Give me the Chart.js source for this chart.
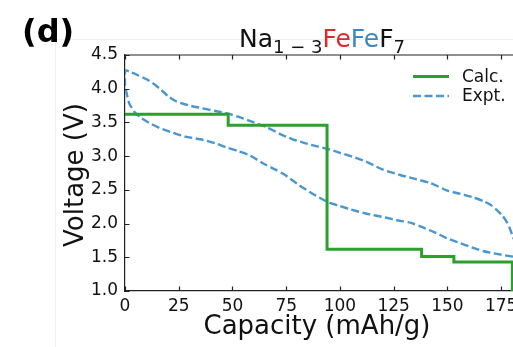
<!DOCTYPE html>
<html>
<head>
<meta charset="utf-8">
<script src="https://cdn.jsdelivr.net/npm/chart.js@4.4.0/dist/chart.umd.min.js"></script>
<style>
  html, body { margin: 0; padding: 0; background: #fff; overflow: hidden; }
  #grafico { display: block; }
</style>
</head>
<body>
<canvas id="grafico" width="530" height="347"></canvas>
<script>
// escalones calculados (capacidad donde empieza cada meseta)
const capacidadCalc = [0, 48, 94, 138, 153, 180.2];
const voltajeCalc = [3.62, 3.46, 1.62, 1.51, 1.43, 1.0];

// curva experimental de descarga
const capacidadDescarga = [0, 1, 2, 4.5, 7, 11, 16, 22, 28, 35, 42, 48, 53, 58, 65, 70, 74, 81, 89, 95, 100, 105, 112, 121, 128, 133, 138, 144, 150, 156, 162, 167, 173, 180.5];
const voltajeDescarga = [4.06, 3.9, 3.78, 3.65, 3.58, 3.5, 3.42, 3.35, 3.29, 3.25, 3.19, 3.12, 3.07, 3.01, 2.88, 2.8, 2.73, 2.57, 2.41, 2.31, 2.26, 2.21, 2.15, 2.09, 2.04, 2.01, 1.95, 1.87, 1.78, 1.71, 1.64, 1.59, 1.55, 1.51];

// curva experimental de carga
const capacidadCarga = [0, 3, 6, 10, 13, 17, 20, 24, 30, 36, 42, 48, 54, 60, 66, 72, 78, 84, 90, 94, 100, 106, 112, 120, 128, 134, 142, 150, 156, 162, 167, 170, 173, 175.5, 177.5, 179, 180.5, 182];
const voltajeCarga = [4.27, 4.24, 4.2, 4.14, 4.08, 3.98, 3.89, 3.81, 3.75, 3.71, 3.67, 3.63, 3.57, 3.5, 3.43, 3.33, 3.25, 3.19, 3.14, 3.11, 3.05, 2.99, 2.92, 2.8, 2.72, 2.67, 2.6, 2.49, 2.44, 2.39, 2.33, 2.28, 2.2, 2.12, 2.03, 1.93, 1.8, 1.7];

const ticksX = [0, 25, 50, 75, 100, 125, 150, 175];
const ticksY = [1.0, 1.5, 2.0, 2.5, 3.0, 3.5, 4.0, 4.5];

const nombresSeries = ["Calc.", "Expt."];
const tituloPartes = [
  { texto: "Na", color: "#111", sub: false },
  { texto: "1 \u2212 3", color: "#111", sub: true },
  { texto: "Fe", color: "#e3262a", sub: false },
  { texto: "Fe", color: "#3d86c2", sub: false },
  { texto: "F", color: "#111", sub: false },
  { texto: "7", color: "#111", sub: true },
];

const fuente = "'DejaVu Sans', sans-serif";
const verde = "#2ca02c";
const azul = "#4a96d0";
const guionExpt = [8, 3.5];

function aPuntos(xs, ys) {
  return xs.map((x, i) => ({ x: x, y: ys[i] }));
}

// descarga recorrida hacia atrás y luego la carga, como un solo trazo
const puntosExpt = aPuntos(capacidadDescarga, voltajeDescarga)
  .reverse()
  .concat(aPuntos(capacidadCarga, voltajeCarga));

const decoracion = {
  id: "decoracion",
  afterDraw(chart) {
    const { ctx, chartArea: area, scales } = chart;
    const x = scales.x;
    const y = scales.y;
    ctx.save();

    // marco tenue del panel
    ctx.strokeStyle = "#f2f2f2";
    ctx.lineWidth = 1;
    ctx.beginPath();
    ctx.moveTo(55.5, 347);
    ctx.lineTo(55.5, 39.5);
    ctx.lineTo(chart.width, 39.5);
    ctx.stroke();

    // eje superior y marcas hacia dentro
    ctx.strokeStyle = "#222";
    ctx.lineWidth = 1.2;
    ctx.beginPath();
    ctx.moveTo(area.left, area.top);
    ctx.lineTo(area.right, area.top);
    for (const v of ticksX) {
      const px = Math.round(x.getPixelForValue(v)) + 0.5;
      ctx.moveTo(px, area.bottom);
      ctx.lineTo(px, area.bottom - 4.5);
      ctx.moveTo(px, area.top);
      ctx.lineTo(px, area.top + 4.5);
    }
    for (const v of ticksY) {
      const py = Math.round(y.getPixelForValue(v)) + 0.5;
      ctx.moveTo(area.left, py);
      ctx.lineTo(area.left + 4.5, py);
    }
    ctx.stroke();

    // titulo con subindices
    const grande = "25px " + fuente;
    const chico = "18px " + fuente;
    let ancho = 0;
    for (const p of tituloPartes) {
      ctx.font = p.sub ? chico : grande;
      ancho += ctx.measureText(p.texto).width;
    }
    let cx = (area.left + area.right) / 2 - ancho / 2;
    ctx.textBaseline = "alphabetic";
    ctx.textAlign = "left";
    for (const p of tituloPartes) {
      ctx.font = p.sub ? chico : grande;
      ctx.fillStyle = p.color;
      ctx.fillText(p.texto, cx, p.sub ? 53 : 46.5);
      cx += ctx.measureText(p.texto).width;
    }

    // etiqueta del panel
    ctx.fillStyle = "#000";
    ctx.font = "bold 32px " + fuente;
    ctx.fillText("(d)", 22, 42);

    // titulos de los ejes
    ctx.font = "26px " + fuente;
    ctx.fillStyle = "#111";
    ctx.textAlign = "center";
    ctx.textBaseline = "middle";
    ctx.fillText("Capacity (mAh/g)", 317, 327);
    ctx.save();
    ctx.translate(76, 175);
    ctx.rotate(-Math.PI / 2);
    ctx.fillText("Voltage (V)", 0, 0);
    ctx.restore();

    // leyenda
    ctx.textAlign = "left";
    ctx.font = "17px " + fuente;
    const filas = [
      { y: 76.5, color: verde, ancho: 3, guion: [] },
      { y: 96, color: azul, ancho: 2.4, guion: guionExpt },
    ];
    filas.forEach((f, i) => {
      ctx.strokeStyle = f.color;
      ctx.lineWidth = f.ancho;
      ctx.setLineDash(f.guion);
      ctx.beginPath();
      ctx.moveTo(413, f.y);
      ctx.lineTo(449, f.y);
      ctx.stroke();
      ctx.setLineDash([]);
      ctx.fillStyle = "#111";
      ctx.fillText(nombresSeries[i], 462, f.y + 1);
    });

    ctx.restore();
  },
};

const config = {
  type: "line",
  data: {
    datasets: [
      {
        label: nombresSeries[0],
        data: aPuntos(capacidadCalc, voltajeCalc),
        borderColor: verde,
        borderWidth: 3,
        stepped: "before",
        pointRadius: 0,
      },
      {
        label: nombresSeries[1],
        data: puntosExpt,
        borderColor: azul,
        borderWidth: 2.4,
        borderDash: guionExpt,
        tension: 0.25,
        pointRadius: 0,
      },
    ],
  },
  options: {
    responsive: false,
    animation: false,
    layout: { padding: { top: 55, right: 11, bottom: 0, left: 0 } },
    plugins: { legend: { display: false }, tooltip: { enabled: false } },
    scales: {
      x: {
        type: "linear",
        min: 0,
        max: 183.3,
        afterBuildTicks: (s) => {
          s.ticks = ticksX.map((v) => ({ value: v }));
        },
        afterFit: (s) => {
          s.height = 56;
        },
        grid: { display: true, drawOnChartArea: false, drawTicks: false },
        border: { color: "#222", width: 1.2 },
        ticks: {
          padding: 5,
          color: "#111",
          maxRotation: 0,
          font: { family: fuente, size: 17 },
          callback: (v) => v,
        },
      },
      y: {
        type: "linear",
        min: 1,
        max: 4.5,
        afterBuildTicks: (s) => {
          s.ticks = ticksY.map((v) => ({ value: v }));
        },
        afterFit: (s) => {
          s.width = 125;
        },
        grid: { display: true, drawOnChartArea: false, drawTicks: false },
        border: { color: "#222", width: 1.2 },
        ticks: {
          padding: 7,
          color: "#111",
          font: { family: fuente, size: 17 },
          callback: (v) => v.toFixed(1),
        },
      },
    },
  },
  plugins: [decoracion],
};

new Chart(document.getElementById("grafico"), config);
</script>
</body>
</html>
